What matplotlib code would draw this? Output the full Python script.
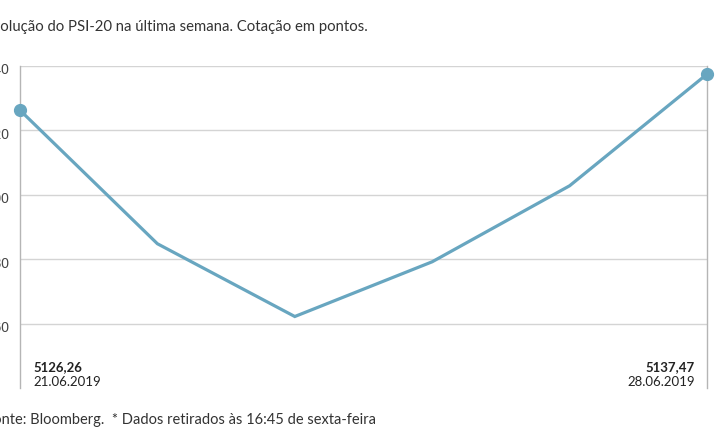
import matplotlib
matplotlib.use("Agg")
import matplotlib.pyplot as plt
from matplotlib.transforms import ScaledTranslation

plt.rcParams["font.family"] = ["Lato", "DejaVu Sans"]

# PSI-20 daily closes, 21.06.2019 to 28.06.2019
dates = ["21.06.2019", "24.06.2019", "25.06.2019", "26.06.2019", "27.06.2019", "28.06.2019"]
closes = [5126.26, 5084.8, 5062.2, 5079.2, 5102.8, 5137.47]
yticks = [5060, 5080, 5100, 5120, 5140]

title = "Evolução do PSI-20 na última semana. Cotação em pontos."
footer = "Fonte: Bloomberg.  * Dados retirados às 16:45 de sexta-feira"

W, H = 715, 445
fig = plt.figure(figsize=(W / 100, H / 100), dpi=100)
ax = fig.add_axes([20 / W, 1 - 388 / H, (707 - 20) / W, (388 - 66) / H])

line_color = "#68a6c0"
x = list(range(len(closes)))
ax.plot(x, closes, color=line_color, lw=2.3, solid_joinstyle="miter", zorder=3)
ax.plot([x[0], x[-1]], [closes[0], closes[-1]], "o", color=line_color,
        ms=8.5, zorder=4, clip_on=False)

ax.set_xlim(0, len(closes) - 1)
ax.set_ylim(5040, 5140)
for v in yticks:
    ax.axhline(v, color="#d4d4d4", lw=1, zorder=1)
ax.set_yticks(yticks)
ax.set_yticklabels([str(v) for v in yticks], family="Liberation Sans")
ax.tick_params(axis="y", length=0, pad=7.6, labelsize=10, labelcolor="#444444")
shift = ScaledTranslation(0, -3 / 100, fig.dpi_scale_trans)
for lab in ax.get_yticklabels():
    lab.set_transform(lab.get_transform() + shift)
ax.set_xticks([])
for s in ["top", "bottom"]:
    ax.spines[s].set_visible(False)
for s in ["left", "right"]:
    ax.spines[s].set_color("#b5b5b5")
    ax.spines[s].set_linewidth(1)

def fmt(v):
    return f"{v:.2f}".replace(".", ",")

fig.text(33 / W, 1 - 367 / H, fmt(closes[0]), fontsize=9.5, fontweight="bold",
         color="#222222", ha="left", va="center")
fig.text(33 / W, 1 - 382 / H, dates[0], fontsize=9.5, color="#222222",
         ha="left", va="center")
fig.text(695 / W, 1 - 367 / H, fmt(closes[-1]), fontsize=9.5, fontweight="bold",
         color="#222222", ha="right", va="center")
fig.text(695 / W, 1 - 382 / H, dates[-1], fontsize=9.5, color="#222222",
         ha="right", va="center")

fig.text(-16 / W, 1 - 27 / H, title, fontsize=10.7, color="#333333",
         ha="left", va="center")
fig.text(-15 / W, 1 - 420 / H, footer, fontsize=10.5, color="#333333",
         ha="left", va="center")

fig.savefig("out.png", dpi=100)
